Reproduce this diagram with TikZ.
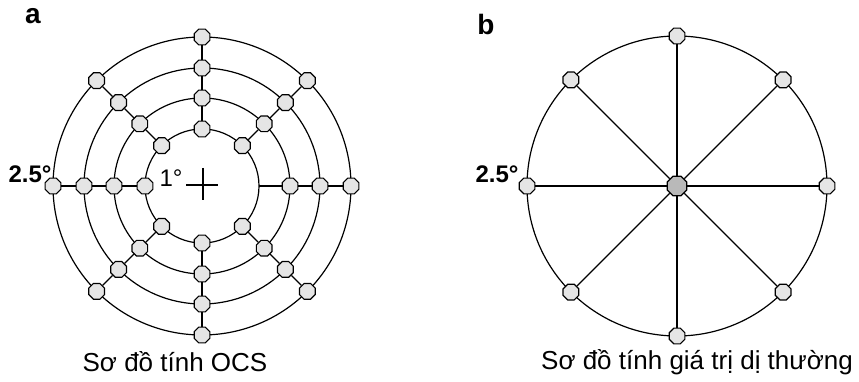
\documentclass[tikz,border=0pt]{standalone}
\usepackage{fontspec}
\setmainfont{Liberation Sans}
\usetikzlibrary{shapes.geometric}
\begin{document}
\begin{tikzpicture}[x=1pt,y=-1pt,
  ring/.style={draw,line width=1.2pt},
  spoke/.style={draw,line width=1.1pt},
  pt/.style={regular polygon,regular polygon sides=8,draw,line width=1.2pt,fill=gray!20,minimum size=17pt,inner sep=0pt},
  ctr/.style={regular polygon,regular polygon sides=8,draw,line width=1.2pt,fill=gray!55,minimum size=21pt,inner sep=0pt},
  lbl/.style={inner sep=0pt,font=\fontsize{24}{26}\selectfont},
  deg/.style={inner sep=0pt,font=\fontsize{24}{26}\selectfont\bfseries},
  panel/.style={inner sep=0pt,font=\fontsize{28}{30}\selectfont\bfseries},
  captext/.style={inner sep=0pt,font=\fontsize{26}{29}\selectfont}]
\useasboundingbox (0,0) rectangle (859,382);
% ---------- panel a ----------
\coordinate (ca) at (202,186);
\foreach \rad in {57,88,118,149}
  \draw[ring] (ca) circle[radius=\rad pt];
\foreach \a in {45,90,...,315}
  \node[pt] (a1-\a) at ([shift={(\a:57pt)}]ca) {};
\foreach \r/\rad in {2/88,3/118,4/149}
  \foreach \a in {0,45,...,315}
    \node[pt] (a\r-\a) at ([shift={(\a:\rad pt)}]ca) {};
\coordinate (a1-0c) at ([shift={(0:57pt)}]ca);
\foreach \a in {45,90,...,315}
  \draw[spoke] (a1-\a) -- (a2-\a) -- (a3-\a) -- (a4-\a);
\draw[spoke] (a1-0c) -- (a2-0) -- (a3-0) -- (a4-0);
\coordinate (xl) at ([shift={(-16pt,1pt)}]ca);
\coordinate (xr) at ([shift={(16pt,1pt)}]ca);
\coordinate (xt) at ([shift={(1pt,18pt)}]ca);
\coordinate (xb) at ([shift={(1pt,-14pt)}]ca);
\draw[line width=1.1pt] (xl) -- (xr);
\draw[line width=1.1pt] (xt) -- (xb);
\node[lbl] (one) at (171,178) {1°};
\node[deg] (dega) at (30,174) {2.5°};
\node[panel] (pa) at (33,16) {a};
\node[captext] (capa) at (175,362) {Sơ đồ tính OCS};
% ---------- panel b ----------
\coordinate (cb) at (677,186);
\draw[ring] (cb) circle[radius=150pt];
\node[ctr] (b0) at (cb) {};
\foreach \a in {0,45,...,315}{
  \node[pt] (b-\a) at ([shift={(\a:150pt)}]cb) {};
  \draw[spoke] (b0) -- (b-\a);
}
\node[deg] (degb) at (497,174) {2.5°};
\node[panel] (pb) at (486,24) {b};
\node[captext] (capb) at (697,362) {Sơ đồ tính giá trị dị thường};
\end{tikzpicture}
\end{document}
